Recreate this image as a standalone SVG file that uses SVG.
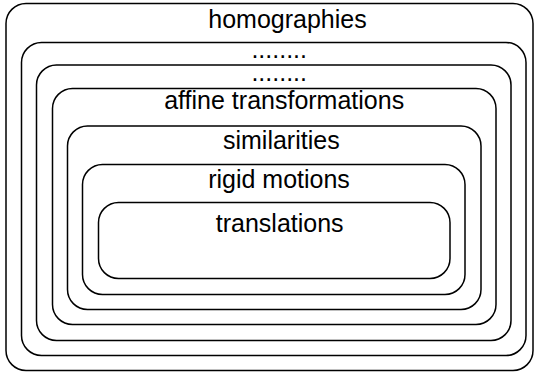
<svg xmlns="http://www.w3.org/2000/svg" width="535" height="376" viewBox="0 0 535 376">
<style>
.b{fill:#fff;stroke:#000;stroke-width:1.5}
.t{font-family:"Liberation Sans",Arial,sans-serif;font-size:25px;fill:#000;text-anchor:middle}
</style>
<rect width="535" height="376" fill="#fff"/>
<g id="homographies"><rect class="b" x="6" y="3.5" width="527" height="367" rx="20"/><text class="t" x="287.5" y="27.5">homographies</text></g>
<g id="dots1"><rect class="b" x="21.5" y="42.5" width="504.5" height="313" rx="20"/><text class="t" x="279.2" y="58">........</text></g>
<g id="dots2"><rect class="b" x="36.5" y="65" width="474.5" height="275.5" rx="20"/><text class="t" x="279.2" y="80.5">........</text></g>
<g id="affine"><rect class="b" x="52.5" y="88.5" width="443.5" height="236" rx="20"/><text class="t" x="284.2" y="108.5">affine transformations</text></g>
<g id="similarities"><rect class="b" x="67.5" y="126" width="413.5" height="183.5" rx="20"/><text class="t" x="281.3" y="148.5">similarities</text></g>
<g id="rigid"><rect class="b" x="82.5" y="164.5" width="382.5" height="130" rx="20"/><text class="t" x="279" y="187.5">rigid motions</text></g>
<g id="translations"><rect class="b" x="98.5" y="202.5" width="351.5" height="76" rx="20"/><text class="t" x="279.7" y="231.7">translations</text></g>
<g id="connectors"/>
</svg>
